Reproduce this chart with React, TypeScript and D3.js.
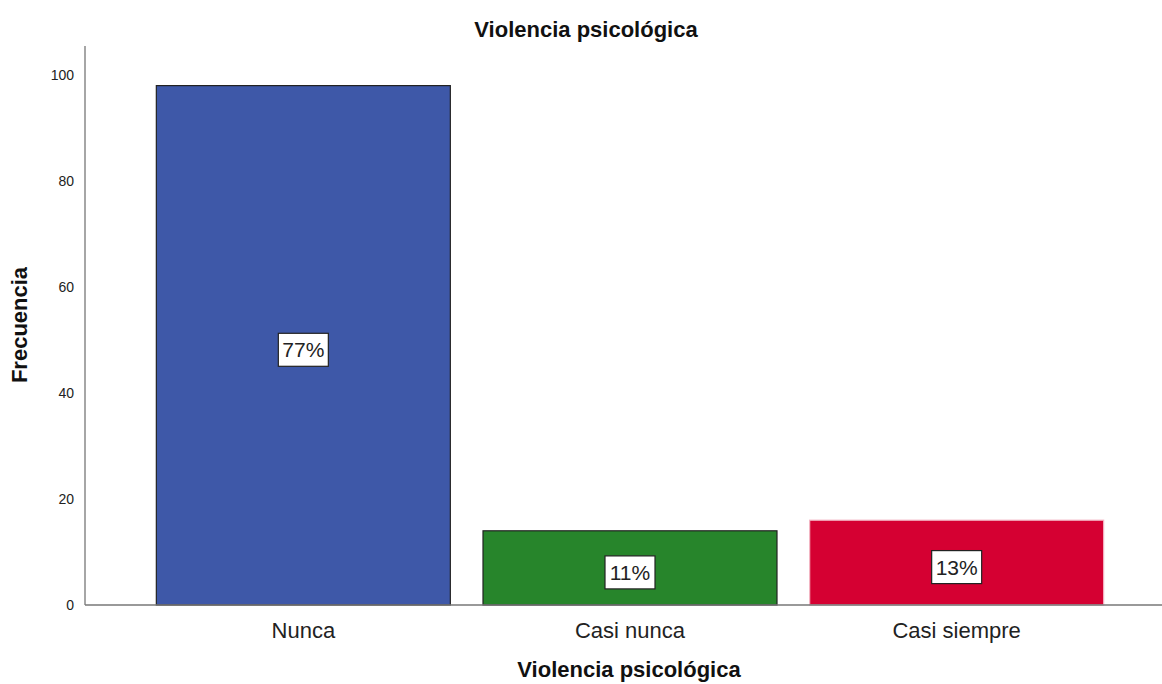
import React from "react";
import * as d3 from "d3";

const categories = ["Nunca", "Casi nunca", "Casi siempre"];
const counts = [98, 14, 16];
const percentLabels = ["77%", "11%", "13%"];
const fills = ["#3e58a8", "#27852b", "#d50032"];
const strokes = ["#222222", "#222222", "#f3b6c4"];
const yTicks = [0, 20, 40, 60, 80, 100];

const W = 1162;
const H = 684;

export default function App() {
  const y = d3.scaleLinear().domain([0, 100]).range([605, 75]);
  const x = d3
    .scaleBand<string>()
    .domain(categories)
    .range([140, 1120])
    .paddingInner(0.1)
    .paddingOuter(0.05);
  const font = "Arial, 'Liberation Sans', sans-serif";
  return (
    <svg
      width={W}
      height={H}
      style={{ position: "absolute", left: 0, top: 0, background: "#fff" }}
      fontFamily={font}
    >
      <text x={586} y={37} textAnchor="middle" fontSize={22} fontWeight="bold" fill="#111">
        Violencia psicológica
      </text>
      {yTicks.map((t) => (
        <text key={t} x={74} y={y(t) + 5} textAnchor="end" fontSize={14} fill="#222">
          {t}
        </text>
      ))}
      {categories.map((c, i) => {
        const x0 = x(c)!;
        const bw = x.bandwidth();
        const top = y(counts[i]);
        const cy = (top + y(0)) / 2 + 4;
        return (
          <g key={c}>
            <rect
              x={x0}
              y={top}
              width={bw}
              height={y(0) - top}
              fill={fills[i]}
              stroke={strokes[i]}
              strokeWidth={1.2}
            />
            <rect
              x={x0 + bw / 2 - 25}
              y={cy - 16}
              width={50}
              height={33}
              fill="#fff"
              stroke="#222"
              strokeWidth={1.2}
            />
            <text x={x0 + bw / 2} y={cy + 8} textAnchor="middle" fontSize={21} fill="#222">
              {percentLabels[i]}
            </text>
            <text x={x0 + bw / 2} y={638} textAnchor="middle" fontSize={22} fill="#222">
              {c}
            </text>
          </g>
        );
      })}
      <line x1={85} x2={85} y1={46} y2={605} stroke="#888" strokeWidth={1.5} />
      <line x1={85} x2={1162} y1={605} y2={605} stroke="#777" strokeWidth={1.5} />
      <text
        transform={`translate(27,325) rotate(-90)`}
        textAnchor="middle"
        fontSize={22}
        fontWeight="bold"
        fill="#111"
      >
        Frecuencia
      </text>
      <text x={629} y={677} textAnchor="middle" fontSize={22} fontWeight="bold" fill="#111">
        Violencia psicológica
      </text>
    </svg>
  );
}
